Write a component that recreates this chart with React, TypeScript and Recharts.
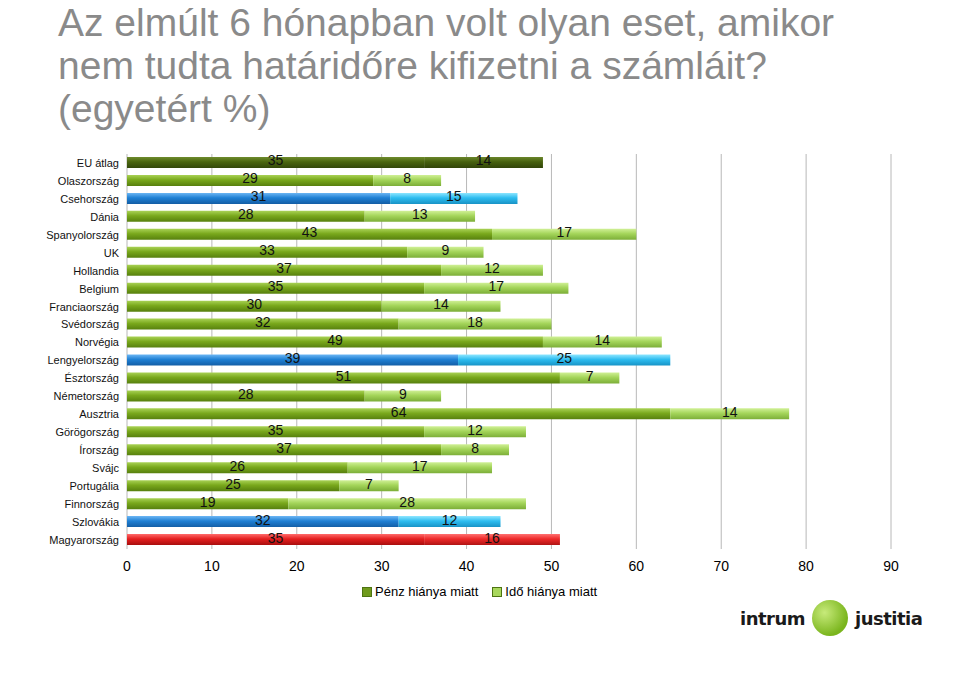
import { BarChart, Bar, XAxis, YAxis, CartesianGrid, LabelList, Cell } from "recharts";

const countries = [
  "EU átlag", "Olaszország", "Csehország", "Dánia", "Spanyolország", "UK", "Hollandia",
  "Belgium", "Franciaország", "Svédország", "Norvégia", "Lengyelország", "Észtország",
  "Németország", "Ausztria", "Görögország", "Írország", "Svájc", "Portugália",
  "Finnország", "Szlovákia", "Magyarország",
];
const moneyShare = [35, 29, 31, 28, 43, 33, 37, 35, 30, 32, 49, 39, 51, 28, 64, 35, 37, 26, 25, 19, 32, 35];
const timeShare = [14, 8, 15, 13, 17, 9, 12, 17, 14, 18, 14, 25, 7, 9, 14, 12, 8, 17, 7, 28, 12, 16];
const rowKind = [
  "eu", "green", "blue", "green", "green", "green", "green", "green", "green", "green", "green",
  "blue", "green", "green", "green", "green", "green", "green", "green", "green", "blue", "red",
];
const xTicks = [0, 10, 20, 30, 40, 50, 60, 70, 80, 90];
const seriesNames = ["Pénz hiánya miatt", "Idő hiánya miatt"];

// top / middle / bottom stops for the bevelled bars
const shades: Record<string, [string, string, string]> = {
  eu1: ["#6f8c2c", "#4a650f", "#33480a"],
  eu2: ["#6a862a", "#46600e", "#314509"],
  green1: ["#a9d255", "#79a81c", "#57800e"],
  green2: ["#d0f096", "#a4d55a", "#7cae38"],
  blue1: ["#6cb6f4", "#1f80d4", "#135ea6"],
  blue2: ["#8ee6ff", "#2ebdf0", "#1893c6"],
  red1: ["#ff6a6a", "#e41f1f", "#a80e0e"],
  red2: ["#ff7070", "#ee2a2a", "#b01414"],
};

const data = countries.map((name, i) => ({
  name,
  penz: moneyShare[i],
  ido: timeShare[i],
  kind: rowKind[i],
}));

const font = "'Liberation Sans', Arial, sans-serif";

export default function App() {
  return (
    <div style={{ position: "absolute", left: 0, top: 0, width: 960, height: 684, background: "#fff", fontFamily: font, overflow: "hidden" }}>
      <div style={{ position: "absolute", left: 58, top: 1, fontSize: 39, lineHeight: "43px", color: "#8a8a8a", whiteSpace: "nowrap" }}>
        Az elmúlt 6 hónapban volt olyan eset, amikor
        <br />
        nem tudta határidőre kifizetni a számláit?
        <br />
        (egyetért %)
      </div>

      <div style={{ position: "absolute", left: 0, top: 0 }}>
        <BarChart
          width={960}
          height={600}
          data={data}
          layout="vertical"
          margin={{ top: 154, right: 69, bottom: 21, left: 0 }}
          barSize={11}
        >
          <defs>
            {Object.keys(shades).map((k) => (
              <linearGradient key={k} id={`g-${k}`} x1="0" y1="0" x2="0" y2="1">
                <stop offset="0%" stopColor={shades[k][0]} />
                <stop offset="45%" stopColor={shades[k][1]} />
                <stop offset="100%" stopColor={shades[k][2]} />
              </linearGradient>
            ))}
          </defs>
          <CartesianGrid horizontal={false} stroke="#b8b8b8" />
          <XAxis
            type="number"
            domain={[0, 90]}
            ticks={xTicks}
            axisLine={false}
            tickLine={false}
            tickMargin={6}
            tick={{ fontSize: 14, fill: "#000", fontFamily: font }}
            height={30}
          />
          <YAxis
            type="category"
            dataKey="name"
            width={127}
            axisLine={false}
            tickLine={false}
            interval={0}
            tick={{ fontSize: 11, fill: "#111", fontFamily: font }}
          />
          <Bar dataKey="penz" name={seriesNames[0]} stackId="a" fill="#6f9a1c" isAnimationActive={false}>
            {data.map((d, i) => (
              <Cell key={i} fill={`url(#g-${d.kind}1)`} />
            ))}
            <LabelList dataKey="penz" position="center" fill="#111" fontSize={14} fontFamily={font} dy={-2} />
          </Bar>
          <Bar dataKey="ido" name={seriesNames[1]} stackId="a" fill="#9fd152" isAnimationActive={false}>
            {data.map((d, i) => (
              <Cell key={i} fill={`url(#g-${d.kind}2)`} />
            ))}
            <LabelList dataKey="ido" position="center" fill="#111" fontSize={14} fontFamily={font} dy={-2} />
          </Bar>
        </BarChart>
      </div>

      <div style={{ position: "absolute", left: 362, top: 584, display: "flex", alignItems: "center", fontSize: 13, color: "#000" }}>
        {seriesNames.map((n, i) => (
          <span key={n} style={{ display: "flex", alignItems: "center", marginRight: 14 }}>
            <span
              style={{
                display: "inline-block",
                width: 8,
                height: 8,
                marginRight: 3,
                border: "1px solid #4e7412",
                background: i === 0 ? "#6f9a1c" : "#a8d75c",
              }}
            />
            {n}
          </span>
        ))}
      </div>

      <div style={{ position: "absolute", left: 740, top: 600, display: "flex", alignItems: "center", fontFamily: "'DejaVu Sans', sans-serif", fontWeight: "bold", fontSize: 18, letterSpacing: -0.5, color: "#1a1a1a" }}>
        <span>intrum</span>
        <span
          style={{
            display: "inline-block",
            width: 36,
            height: 36,
            borderRadius: "50%",
            margin: "0 7px",
            background: "radial-gradient(circle at 35% 35%, #c7ea7a, #7ab51d 70%)",
          }}
        />
        <span>justitia</span>
      </div>
    </div>
  );
}
